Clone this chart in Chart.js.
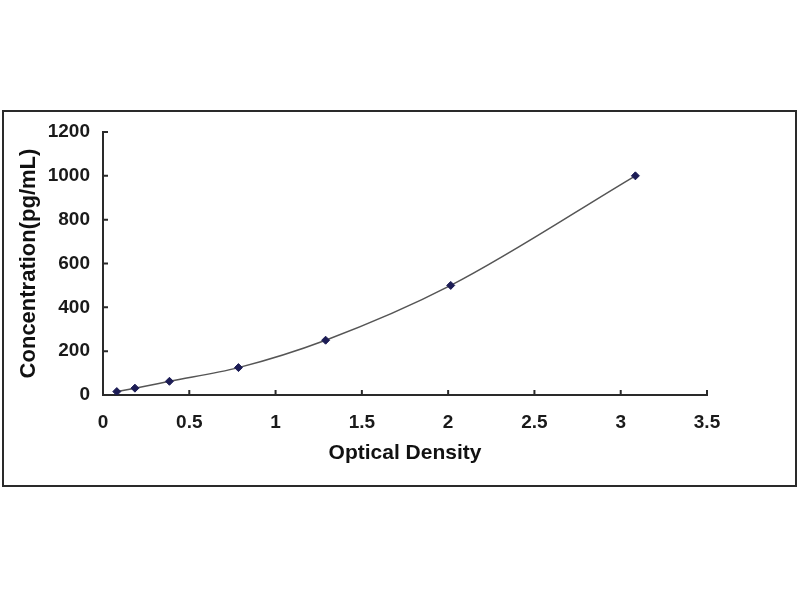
<!DOCTYPE html>
<html>
<head>
<meta charset="utf-8">
<script src="https://cdn.jsdelivr.net/npm/chart.js@4/dist/chart.umd.min.js"></script>
<style>
  html, body { margin: 0; padding: 0; background: #fff; width: 800px; height: 600px; overflow: hidden; }
  #frame { position: absolute; left: 2px; top: 110px; width: 791px; height: 373px; border: 2px solid #2a2a2a; background: #fff; }
  #c { display: block; }
</style>
</head>
<body>
<div id="frame"><canvas id="c" width="791" height="373"></canvas></div>
<script>
// Data
const opticalDensity = [0.08, 0.185, 0.385, 0.785, 1.29, 2.015, 3.085];
const concentration  = [15.6, 31.2, 62.5, 125, 250, 500, 1000];
const xTicks = [0, 0.5, 1, 1.5, 2, 2.5, 3, 3.5];
const yTicks = [0, 200, 400, 600, 800, 1000, 1200];
const xTitle = 'Optical Density';
const yTitle = 'Concentration(pg/mL)';

const points = opticalDensity.map((x, i) => ({ x: x, y: concentration[i] }));

const tickFont = { family: 'Liberation Sans, Arial, sans-serif', size: 19, weight: 'bold' };
const xTitleFont = { family: 'Liberation Sans, Arial, sans-serif', size: 21, weight: 'bold' };
const yTitleFont = { family: 'Liberation Sans, Arial, sans-serif', size: 22, weight: 'bold' };

const innerTicks = {
  id: 'innerTicks',
  afterDraw(chart) {
    const ctx = chart.ctx;
    const xs = chart.scales.x, ys = chart.scales.y;
    ctx.save();
    ctx.strokeStyle = '#2a2a2a';
    ctx.lineWidth = 2;
    ctx.beginPath();
    xTicks.forEach(v => {
      const px = xs.getPixelForValue(v);
      ctx.moveTo(px, ys.bottom);
      ctx.lineTo(px, ys.bottom - 5);
    });
    yTicks.forEach(v => {
      const py = ys.getPixelForValue(v);
      ctx.moveTo(xs.left, py);
      ctx.lineTo(xs.left + 5, py);
    });
    ctx.stroke();
    ctx.restore();
  }
};

new Chart(document.getElementById('c'), {
  type: 'scatter',
  data: {
    datasets: [{
      data: points,
      showLine: true,
      tension: 0.4,
      cubicInterpolationMode: 'monotone',
      borderColor: '#555',
      borderWidth: 1.5,
      pointStyle: 'rectRot',
      pointRadius: 4,
      pointBackgroundColor: '#1c1c55',
      pointBorderColor: '#1c1c55',
      pointBorderWidth: 1
    }]
  },
  options: {
    responsive: false,
    animation: false,
    layout: { padding: { left: 0, right: 88, top: 20, bottom: 0 } },
    plugins: { legend: { display: false }, tooltip: { enabled: false } },
    scales: {
      x: {
        type: 'linear',
        min: 0, max: 3.5,
        afterBuildTicks(scale) { scale.ticks = xTicks.map(v => ({ value: v })); },
        afterFit(scale) { scale.height = 90; },
        grid: { display: false },
        border: { display: true, color: '#2a2a2a', width: 2 },
        ticks: { color: '#1a1a1a', font: tickFont, padding: 8, maxRotation: 0, autoSkip: false,
                 callback: v => String(v) },
        title: { display: true, text: xTitle, color: '#111', font: xTitleFont, padding: { top: 0, bottom: 19 } }
      },
      y: {
        type: 'linear',
        min: 0, max: 1200,
        afterBuildTicks(scale) { scale.ticks = yTicks.map(v => ({ value: v })); },
        afterFit(scale) { scale.width = 99; },
        grid: { display: false },
        border: { display: true, color: '#2a2a2a', width: 2 },
        ticks: { color: '#1a1a1a', font: tickFont, padding: 5, autoSkip: false,
                 callback: v => String(v) },
        title: { display: true, text: yTitle, color: '#111', font: yTitleFont, padding: { top: 12, bottom: 0 } }
      }
    }
  },
  plugins: [innerTicks]
});
</script>
</body>
</html>
